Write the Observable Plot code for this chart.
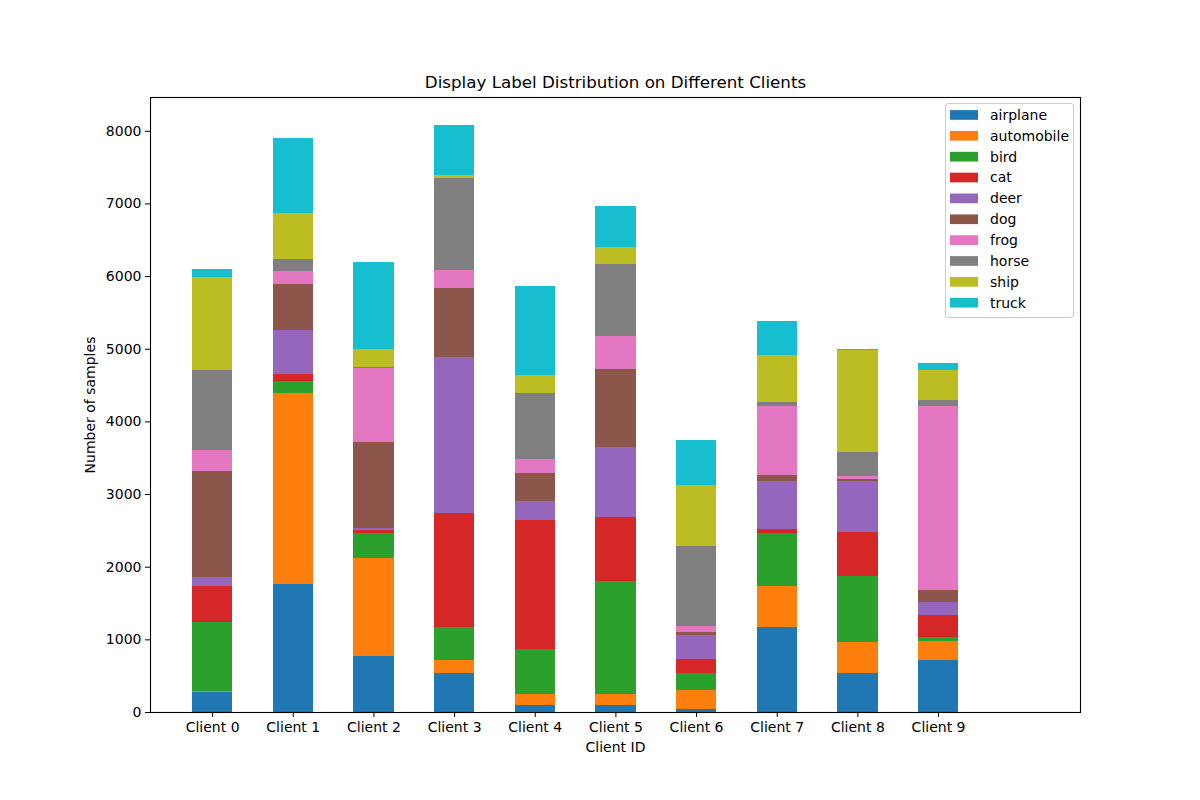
<!DOCTYPE html>
<html><head><meta charset="utf-8">
<script src="https://cdn.jsdelivr.net/npm/d3@7"></script>
<script src="https://cdn.jsdelivr.net/npm/@observablehq/plot@0.6"></script>
<style>body{margin:0;background:#fff}</style>
</head><body><div id="chart"></div>
<script>
const clients = [0,1,2,3,4,5,6,7,8,9];
const clientLabels = clients.map(i => "Client " + i);
const labels = ["airplane","automobile","bird","cat","deer","dog","frog","horse","ship","truck"];
const colors = ["#1f77b4","#ff7f0e","#2ca02c","#d62728","#9467bd","#8c564b","#e377c2","#7f7f7f","#bcbd22","#17becf"];
const yTicks = [0,1000,2000,3000,4000,5000,6000,7000,8000];

const airplane   = [280,1766,771,541,102,102,47,1171,536,720];
const automobile = [13,2628,1353,177,150,150,256,564,426,261];
const bird       = [950,161,339,450,616,1553,237,729,910,55];
const cat        = [496,101,42,1574,1778,884,195,57,607,303];
const deer       = [123,605,32,2143,257,964,327,659,701,179];
const dog        = [1459,633,1179,953,391,1071,42,81,33,165];
const frog       = [285,179,1023,247,188,455,81,952,38,2531];
const horse      = [1105,162,13,1264,910,981,1104,52,327,82];
const ship       = [1280,634,243,43,246,246,839,650,1403,413];
const truck      = [105,1032,1199,685,1227,557,616,469,14,96];

const series = [airplane,automobile,bird,cat,deer,dog,frog,horse,ship,truck];
const rows = [];
clients.forEach((c, i) => {
  labels.forEach((l, j) => rows.push({client: c, label: l, value: series[j][i]}));
});

const W = 1200, H = 800;
const plot = Plot.plot({
  width: W, height: H,
  marginLeft: 150, marginRight: 120, marginTop: 97, marginBottom: 88,
  style: {fontFamily: "DejaVu Sans", fontSize: "14px", background: "#fff", color: "#000"},
  x: {type: "linear", domain: [-0.77, 10.76]},
  y: {domain: [0, 8465]},
  color: {domain: labels, range: colors},
  marks: [
    Plot.rectY(rows, {x1: d => d.client - 0.25, x2: d => d.client + 0.25, y: "value", fill: "label", shapeRendering: "crispEdges"}),
    Plot.axisX({ticks: clients, tickFormat: i => clientLabels[i], tickSize: 5, tickPadding: 5, label: "Client ID", labelAnchor: "center", labelArrow: "none", labelOffset: 39, fontSize: 14}),
    Plot.axisY({ticks: yTicks, tickFormat: d => String(d), tickSize: 5, tickPadding: 4, label: "Number of samples", labelAnchor: "center", labelArrow: "none", labelOffset: 65, fontSize: 14}),
    Plot.frame({stroke: "#000", strokeWidth: 1.1}),
    Plot.text(["Display Label Distribution on Different Clients"], {frameAnchor: "top", dy: -21, fontSize: 16.7, fill: "#000"})
  ]
});
document.getElementById("chart").appendChild(plot);

// legend
const svg = d3.select(plot);
const lg = svg.append("g").attr("font-family", "DejaVu Sans").attr("font-size", 14).attr("text-anchor", "start");
lg.append("rect").attr("x", 945.5).attr("y", 103.5).attr("width", 128).attr("height", 214)
  .attr("rx", 2.5).attr("fill", "#fff").attr("fill-opacity", 0.8).attr("stroke", "#ccc");
labels.forEach((l, j) => {
  const cy = 115 + j * 20.86;
  lg.append("rect").attr("x", 950).attr("y", cy - 4.9).attr("width", 28).attr("height", 9.7).attr("fill", colors[j]);
  lg.append("text").attr("x", 990).attr("y", cy).attr("dy", "0.35em").attr("text-anchor", "start").attr("fill", "#000").text(l);
});
</script></body></html>
